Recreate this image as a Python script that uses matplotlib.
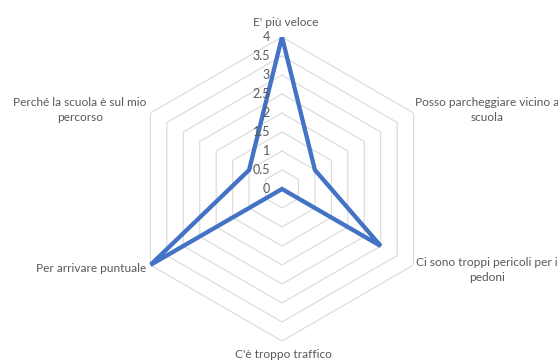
import numpy as np
import matplotlib
matplotlib.use("Agg")
import matplotlib.pyplot as plt
from matplotlib.transforms import offset_copy

categories = ["E' più veloce", "Posso parcheggiare vicino a\nscuola",
              "Ci sono troppi pericoli per i\npedoni", "C'è troppo traffico",
              "Per arrivare puntuale", "Perché la scuola è sul mio\npercorso"]
values = [4, 1, 3, 0, 4, 1]
ring_values = [0, 0.5, 1, 1.5, 2, 2.5, 3, 3.5, 4]
ring_labels = ["0", "0.5", "1", "1.5", "2", "2.5", "3", "3.5", "4"]

plt.rcParams['font.family'] = ['Lato', 'DejaVu Sans']
W, H = 558, 364
fig = plt.figure(figsize=(W / 100, H / 100), dpi=100)
cx, cy, R = 282, 189, 152
ax = fig.add_axes([(cx - R) / W, (H - cy - R) / H, 2 * R / W, 2 * R / H], projection='polar')
ax.set_theta_offset(np.pi / 2)
ax.set_theta_direction(-1)
ax.set_ylim(0, 4)
ax.grid(False)
ax.spines['polar'].set_visible(False)
ax.set_xticks([])
ax.set_yticks([])
ax.patch.set_alpha(0)

n = len(categories)
angles = np.arange(n) * 2 * np.pi / n
closed = np.append(angles, angles[0])

grid_col = '#D9D9D9'
for r in ring_values[1:]:
    ax.plot(closed, [r] * (n + 1), color=grid_col, lw=0.8, zorder=1)

vals = np.append(values, values[0])
ax.plot(closed, vals, color='#4472C4', lw=3.1, zorder=3, solid_joinstyle='miter')

tcol = '#595959'
tr = offset_copy(ax.transData, fig=fig, x=-12, y=0, units='dots')
for r, lab in zip(ring_values, ring_labels):
    ax.text(0, r, lab, transform=tr, ha='right', va='center', fontsize=9, color=tcol, zorder=4)

label_pos = [(286, 22, 'center'), (487, 110, 'center'), (487, 270, 'center'),
             (283, 354, 'center'), (146, 268, 'right'), (80, 110, 'center')]
for lab, (x, y, ha) in zip(categories, label_pos):
    fig.text(x / W, 1 - y / H, lab, ha=ha, va='center', fontsize=8.6, color=tcol,
             multialignment='center', linespacing=1.35)

fig.savefig('out.png', dpi=100, facecolor='white')
